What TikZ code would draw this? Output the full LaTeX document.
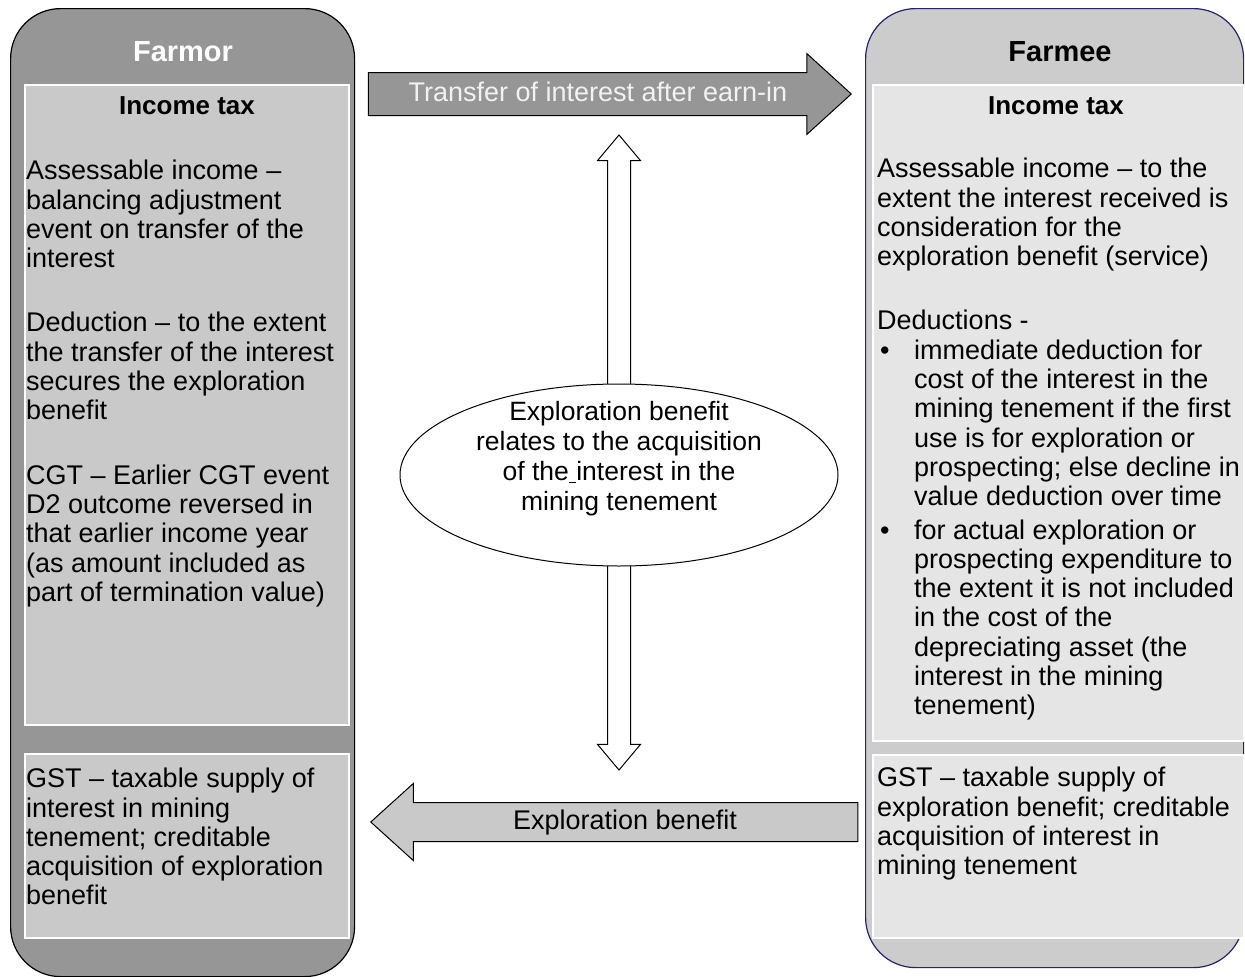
\documentclass[tikz,border=0pt]{standalone}
\usepackage{fontspec}
\setmainfont{Liberation Sans}
\usetikzlibrary{shapes.arrows, shapes.geometric, positioning}

\definecolor{farmordark}{gray}{0.59}
\definecolor{farmorlight}{gray}{0.79}
\definecolor{farmeedark}{gray}{0.80}
\definecolor{farmeelight}{gray}{0.90}
\definecolor{farmeeedge}{RGB}{36,36,112}

\newcommand{\bulletline}{\hspace*{3pt}\makebox[34pt][l]{\textbullet}}
\newcommand{\hangline}{\hspace*{37pt}}

\tikzset{
  party/.style={draw, rounded corners=50pt, line width=1.2pt, anchor=north west, inner sep=0pt},
  taxbox/.style={draw=white, line width=1.5pt, anchor=north west, inner sep=0pt},
  bodytext/.style={font=\fontsize{27}{29.3}\selectfont, align=left, anchor=north west, inner sep=0pt},
  heading/.style={font=\bfseries\fontsize{29}{32}\selectfont},
  subheading/.style={font=\bfseries\fontsize{26}{30}\selectfont},
  blockarrow/.style={single arrow, draw, line width=1pt, single arrow head indent=0pt,
    single arrow head extend=19pt, text height=19pt, text depth=5pt, inner xsep=4pt,
    font=\fontsize{27}{30}\selectfont}
}

\begin{document}
\begin{tikzpicture}[x=1pt, y=-1pt]
  \useasboundingbox (0,0) rectangle (1245,977);

  % the two parties
  \node[party, fill=farmordark, minimum width=344pt, minimum height=968pt] (farmor) at (10,8) {};
  \node[party, draw=farmeeedge, fill=farmeedark, minimum width=378pt, minimum height=959pt] (farmee) at (865,8) {};

  \node[taxbox, fill=farmorlight, minimum width=324pt, minimum height=640pt] (farmorit) at (24,84) {};
  \node[taxbox, fill=farmorlight, minimum width=324pt, minimum height=184pt] (farmorgst) at (24,753) {};
  \node[taxbox, fill=farmeelight, minimum width=371pt, minimum height=656pt] (farmeeit) at (872,84) {};
  \node[taxbox, fill=farmeelight, minimum width=371pt, minimum height=183pt] (farmeegst) at (872,754) {};

  \node[heading, text=white] (farmortitle) at (183,52) {Farmor};
  \node[heading] (farmeetitle) at (1060,52) {Farmee};
  \node[subheading] (farmorhead) at (187,106) {Income tax};
  \node[subheading] (farmeehead) at (1056,106) {Income tax};

  % income tax texts
  \node[bodytext] (farmorittext) at (26,160) {Assessable income --\\
    balancing adjustment\\
    event on transfer of the\\
    interest\\[35pt]
    Deduction -- to the extent\\
    the transfer of the interest\\
    secures the exploration\\
    benefit\\[35pt]
    CGT -- Earlier CGT event\\
    D2 outcome reversed in\\
    that earlier income year\\
    (as amount included as\\
    part of termination value)};

  \node[bodytext] (farmeeittext) at (877,158) {Assessable income -- to the\\
    extent the interest received is\\
    consideration for the\\
    exploration benefit (service)\\[35pt]
    Deductions -\\
    \bulletline immediate deduction for\\
    \hangline cost of the interest in the\\
    \hangline mining tenement if the first\\
    \hangline use is for exploration or\\
    \hangline prospecting; else decline in\\
    \hangline value deduction over time\\[4pt]
    \bulletline for actual exploration or\\
    \hangline prospecting expenditure to\\
    \hangline the extent it is not included\\
    \hangline in the cost of the\\
    \hangline depreciating asset (the\\
    \hangline interest in the mining\\
    \hangline tenement)};

  % gst texts
  \node[bodytext] (farmorgsttext) at (26,768) {GST -- taxable supply of\\
    interest in mining\\
    tenement; creditable\\
    acquisition of exploration\\
    benefit};
  \node[bodytext] (farmeegsttext) at (877,767) {GST -- taxable supply of\\
    exploration benefit; creditable\\
    acquisition of interest in\\
    mining tenement};

  % flows between the parties
  \node[blockarrow, fill=farmordark, text={white!95!black}, inner ysep=9pt, minimum height=483pt,
    minimum width=80pt, single arrow tip angle=84.6, anchor=tip] (transfer) at (852,94) {Transfer of interest after earn-in};
  \node[blockarrow, fill=farmorlight, inner ysep=7pt, minimum height=487pt, minimum width=76pt,
    single arrow tip angle=84.3, shape border rotate=180, anchor=tip] (explore) at (370,822) {Exploration benefit};

  \node[double arrow, draw, fill=white, line width=1pt, rotate=90, inner sep=0pt, inner ysep=11pt,
    double arrow head extend=10pt, double arrow tip angle=80, minimum height=635pt, minimum width=42pt] (link) at (619,452.5) {};
  \node[ellipse, draw, fill=white, line width=1pt, minimum width=438pt, minimum height=182pt] (benefit) at (619,475) {};
  \node[font=\fontsize{26.5}{30}\selectfont, align=center] (benefittext) at ([yshift=16pt]benefit.center)
    {Exploration benefit\\relates to the acquisition\\of the\underline{\ }interest in the\\mining tenement};
\end{tikzpicture}
\end{document}
